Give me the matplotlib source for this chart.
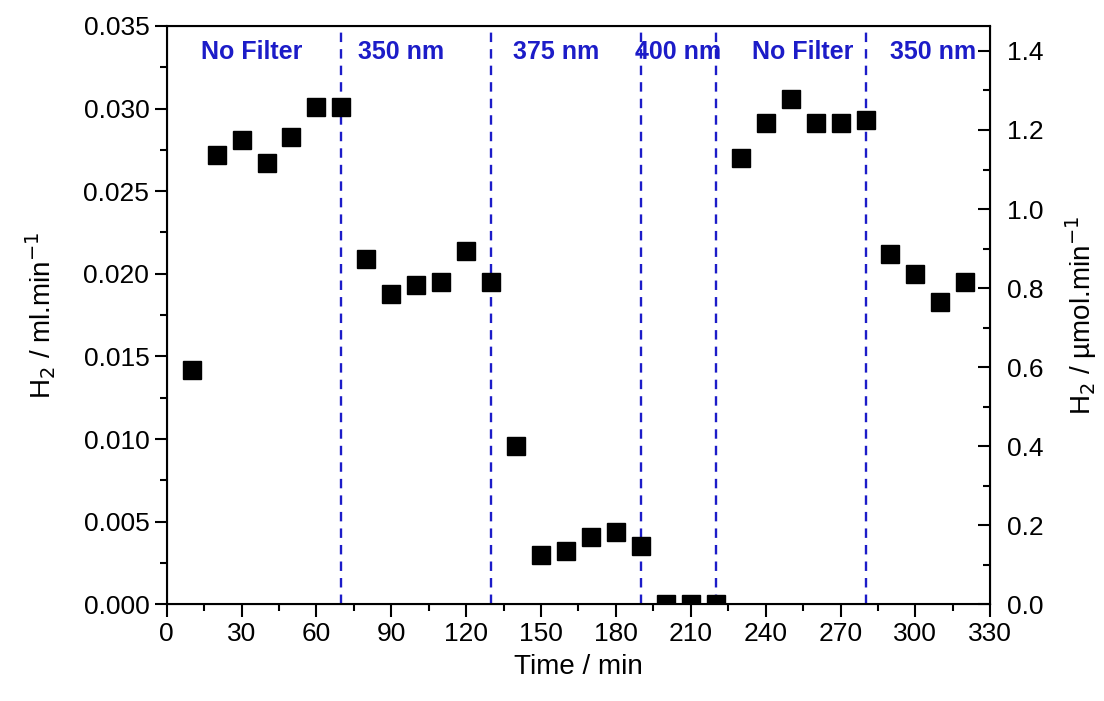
import matplotlib.pyplot as plt
from matplotlib.ticker import MultipleLocator

plt.rcParams['font.family'] = ['Liberation Sans', 'DejaVu Sans']

# H2 evolution rate vs time
time = [10, 20, 30, 40, 50, 60, 70, 80, 90, 100, 110, 120, 130, 140, 150, 160,
        170, 180, 190, 200, 210, 220, 230, 240, 250, 260, 270, 280, 290, 300,
        310, 320]
h2 = [0.0142, 0.0272, 0.0281, 0.0267, 0.0283, 0.0301, 0.0301, 0.0209, 0.0188,
      0.0193, 0.0195, 0.0214, 0.0195, 0.0096, 0.0030, 0.0032, 0.0041, 0.0044,
      0.0035, 0.0, 0.0, 0.0, 0.0270, 0.0291, 0.0306, 0.0291, 0.0291, 0.0293,
      0.0212, 0.0200, 0.0183, 0.0195]

# filter changes
switch_t = [70, 130, 190, 220, 280]
filt_labels = ['No Filter', '350 nm', '375 nm', '400 nm', 'No Filter', '350 nm']
filt_x = [34, 94, 156, 205, 255, 307]

blue = '#1c1cc8'

fig = plt.figure(figsize=(11.04, 7.01), dpi=100)
ax = fig.add_axes([0.151, 0.138, 0.746, 0.825])

ax.plot(time, h2, 's', color='black', ms=12.5, clip_on=True, zorder=3)
for t in switch_t:
    ax.axvline(t, color=blue, ls=(0, (4, 3)), lw=1.7, zorder=2)
for lab, xx in zip(filt_labels, filt_x):
    ax.text(xx, 0.0334, lab, color=blue, fontsize=18, fontweight='bold',
            ha='center', va='center')

ax.set_xlim(0, 330)
ax.set_ylim(0, 0.035)
ax.xaxis.set_major_locator(MultipleLocator(30))
ax.xaxis.set_minor_locator(MultipleLocator(15))
ax.yaxis.set_major_locator(MultipleLocator(0.005))
ax.yaxis.set_minor_locator(MultipleLocator(0.0025))
ax.yaxis.set_major_formatter(plt.FormatStrFormatter('%.3f'))
ax.tick_params(which='major', length=9, width=1.5, labelsize=19, direction='out')
ax.tick_params(which='minor', length=5, width=1.5, direction='out')
ax.tick_params(top=False, right=False, which='both')
for s in ax.spines.values():
    s.set_linewidth(1.5)
ax.set_xlabel('Time / min', fontsize=20, labelpad=6)
ax.set_ylabel('H$_2$ / ml.min$^{-1}$', fontsize=20, labelpad=18)

ax2 = ax.twinx()
ax2.set_ylim(0, 1.4 * 578 / 553)
ax2.yaxis.set_major_locator(MultipleLocator(0.2))
ax2.yaxis.set_minor_locator(MultipleLocator(0.1))
ax2.yaxis.set_major_formatter(plt.FormatStrFormatter('%.1f'))
ax2.tick_params(which='major', length=9, width=1.5, labelsize=19, direction='in', pad=12)
ax2.tick_params(which='minor', length=5, width=1.5, direction='in')
ax2.set_ylabel('H$_2$ / \u00b5mol.min$^{-1}$', fontsize=20, labelpad=14)

fig.savefig('out.png', dpi=100)
